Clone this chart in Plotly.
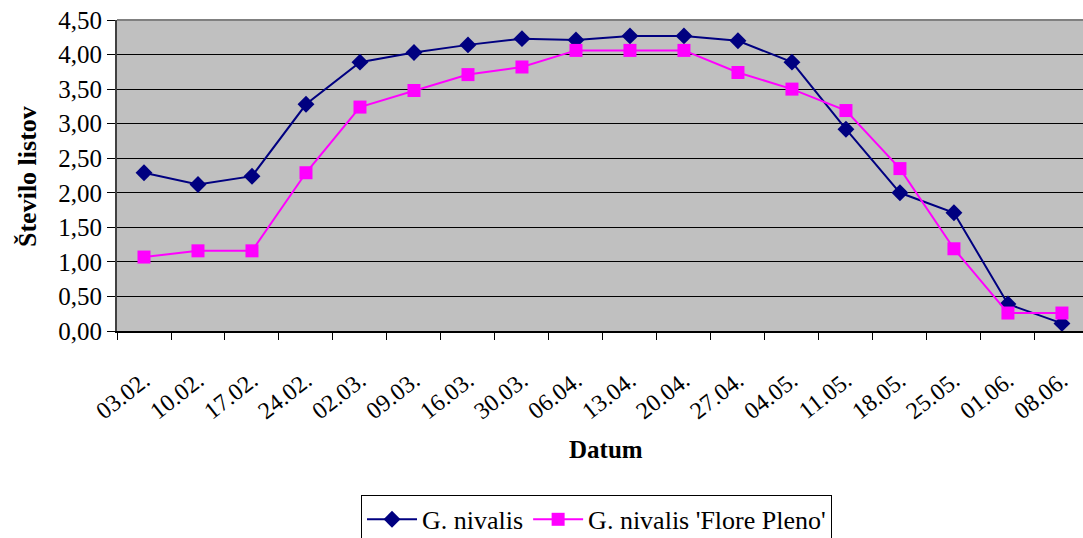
import plotly.graph_objects as go

# Sampling dates and mean leaf counts per date
datumi = ["03.02.", "10.02.", "17.02.", "24.02.", "02.03.", "09.03.", "16.03.", "30.03.",
          "06.04.", "13.04.", "20.04.", "27.04.", "04.05.", "11.05.", "18.05.", "25.05.",
          "01.06.", "08.06."]
g_nivalis = [2.29, 2.12, 2.24, 3.28, 3.89, 4.03, 4.14, 4.23, 4.21, 4.27, 4.27, 4.20,
             3.89, 2.92, 2.00, 1.71, 0.39, 0.11]
flore_pleno = [1.07, 1.16, 1.16, 2.29, 3.24, 3.48, 3.71, 3.82, 4.06, 4.06, 4.06, 3.74,
               3.50, 3.19, 2.35, 1.19, 0.26, 0.26]
y_ticks = [0, 0.5, 1, 1.5, 2, 2.5, 3, 3.5, 4, 4.5]

FONT = "Liberation Serif, Times New Roman, serif"

fig = go.Figure()
fig.add_trace(go.Scatter(
    x=datumi, y=g_nivalis, name="G. nivalis", mode="lines+markers",
    line=dict(color="#000080", width=2),
    marker=dict(symbol="diamond", size=13, color="#000080"),
))
fig.add_trace(go.Scatter(
    x=datumi, y=flore_pleno, name="G. nivalis 'Flore Pleno'", mode="lines+markers",
    line=dict(color="#FF00FF", width=2),
    marker=dict(symbol="square", size=13, color="#FF00FF"),
))

fig.update_layout(
    width=1083, height=538,
    margin=dict(l=117, r=0, t=20, b=207, autoexpand=False),
    paper_bgcolor="white", plot_bgcolor="#C0C0C0",
    separators=", ",
    font=dict(family=FONT, size=22, color="black"),
    showlegend=True,
    legend=dict(
        orientation="h", x=0.2526, y=-0.527, xanchor="left", yanchor="top",
        bordercolor="black", borderwidth=1, bgcolor="white",
        font=dict(family=FONT, size=26), itemwidth=50, tracegroupgap=0,
    ),
    xaxis=dict(
        type="category", range=[-0.5, 17.39], automargin=False,
        tickangle=-38, tickson="boundaries", ticks="outside", ticklen=7,
        tickcolor="black", tickwidth=1, ticklabelstandoff=24,
        showgrid=False, showline=True, linecolor="black", linewidth=2,
        tickfont=dict(family=FONT, size=24), zeroline=False,
    ),
    yaxis=dict(
        range=[0, 4.5], tickvals=y_ticks, tickformat=".2f", automargin=False,
        ticks="outside", ticklen=8, tickcolor="black",
        showgrid=True, gridcolor="black", gridwidth=1,
        showline=True, linecolor="#404040", linewidth=2,
        tickfont=dict(family=FONT, size=25), zeroline=False,
    ),
    shapes=[dict(type="line", xref="paper", yref="paper", x0=0, x1=1, y0=1, y1=1,
                 line=dict(color="#808080", width=2))],
    annotations=[
        dict(text="<b>Datum</b>", xref="paper", yref="paper",
             x=(606 - 117) / 966, y=(331 - 449) / 311, xanchor="center", yanchor="middle",
             showarrow=False, font=dict(family=FONT, size=25)),
        dict(text="<b>Število listov</b>", xref="paper", yref="paper",
             x=(27 - 117) / 966, y=(331 - 177) / 311, xanchor="center", yanchor="middle",
             textangle=-90, showarrow=False, font=dict(family=FONT, size=26)),
    ],
)

fig.write_html("out.html")
